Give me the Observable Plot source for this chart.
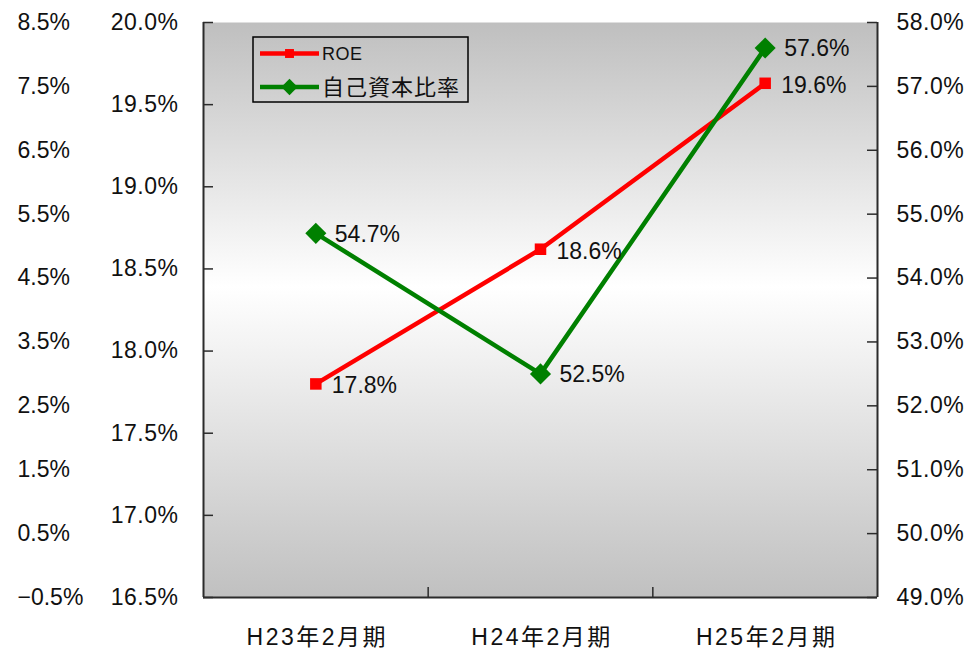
<!DOCTYPE html>
<html><head><meta charset="utf-8">
<script src="https://cdn.jsdelivr.net/npm/d3@7"></script>
<script src="https://cdn.jsdelivr.net/npm/@observablehq/plot@0.6"></script>
<style>
html,body{margin:0;padding:0;background:#fff;}
</style>
</head><body><div id="chart"></div>
<script>
const categories = ["H23年2月期", "H24年2月期", "H25年2月期"];
const seriesNames = ["ROE", "自己資本比率"];
const roe = [17.80, 18.62, 19.63];
const equityRatio = [54.7, 52.5, 57.6];
const roeTicks = [16.5, 17.0, 17.5, 18.0, 18.5, 19.0, 19.5, 20.0];
const equityTicks = [49, 50, 51, 52, 53, 54, 55, 56, 57, 58];
const outerTicks = [-0.5, 0.5, 1.5, 2.5, 3.5, 4.5, 5.5, 6.5, 7.5, 8.5];

const roeDomain = [16.5, 20];
const eqDomain = [49, 58];
const outerDomain = [-0.5, 8.5];
const toRoe = dom => v => roeDomain[0] + (v - dom[0]) * (roeDomain[1] - roeDomain[0]) / (dom[1] - dom[0]);
const eqToY = toRoe(eqDomain), outerToY = toRoe(outerDomain);
const yToEq = y => eqDomain[0] + (y - roeDomain[0]) * (eqDomain[1] - eqDomain[0]) / (roeDomain[1] - roeDomain[0]);

const rows = categories.map((c, i) => ({category: c, pos: i + 0.5, roe: roe[i], eq: equityRatio[i]}));
const boundaries = d3.range(1, categories.length);
const pct = v => (v < 0 ? "\u2212" : "") + Math.abs(v).toFixed(1) + "%";

const RED = "#ff0000", GREEN = "#008000", AX = "#2b2b2b";
const FONT = "'Liberation Sans', Arial, 'Noto Sans CJK JP', sans-serif";

const chart = Plot.plot({
  width: 969, height: 649,
  marginLeft: 203, marginRight: 92, marginTop: 22, marginBottom: 52,
  x: {domain: [0, categories.length], axis: null},
  y: {domain: roeDomain, axis: null},
  style: {fontFamily: FONT, fontSize: "23px", color: "#111", background: "#fff", overflow: "visible"},
  marks: [
    Plot.frame({fill: "url(#bgGrad)", stroke: "none"}),
    Plot.tickY(roeTicks, {y: d => d, insetRight: 664, stroke: AX, strokeWidth: 1.5}),
    Plot.tickY(equityTicks.map(eqToY), {y: d => d, insetLeft: 664, stroke: AX, strokeWidth: 1.5}),
    Plot.tickX(boundaries, {x: d => d, insetTop: 565, stroke: AX, strokeWidth: 1.5}),
    Plot.ruleX([0, categories.length], {stroke: AX, strokeWidth: 2}),
    Plot.ruleY([roeDomain[0]], {stroke: AX, strokeWidth: 2}),
    Plot.axisY(roeTicks, {anchor: "left", label: null, tickSize: 0, tickPadding: 25, tickFormat: pct, fontSize: 23}),
    Plot.axisY(equityTicks.map(eqToY), {anchor: "right", label: null, tickSize: 0, tickPadding: 19, tickFormat: d => pct(yToEq(d)), fontSize: 23}),
    Plot.text(outerTicks, {y: d => outerToY(d), text: d => pct(d), frameAnchor: "left", dx: -186, textAnchor: "start", fontSize: 23}),
    Plot.axisX(rows.map(r => r.pos), {anchor: "bottom", label: null, tickSize: 0, tickPadding: 31, tickFormat: d => categories[Math.floor(d)], fontSize: 23}),
    Plot.line(rows, {x: "pos", y: "roe", stroke: RED, strokeWidth: 4.5}),
    Plot.line(rows, {x: "pos", y: d => eqToY(d.eq), stroke: GREEN, strokeWidth: 4.5}),
    Plot.dot(rows, {x: "pos", y: "roe", symbol: "square", r: 6.5, fill: RED}),
    Plot.dot(rows, {x: "pos", y: d => eqToY(d.eq), symbol: "diamond2", r: 9.5, fill: GREEN}),
    Plot.text(rows, {x: "pos", y: "roe", text: d => pct(d.roe), dx: 16, dy: 2, textAnchor: "start", fontSize: 23}),
    Plot.text(rows, {x: "pos", y: d => eqToY(d.eq), text: d => pct(d.eq), dx: 19, dy: 1, textAnchor: "start", fontSize: 23})
  ]
});

document.getElementById("chart").appendChild(chart);
const svg = d3.select(chart);

// background gradient
const grad = svg.insert("defs", ":first-child").append("linearGradient")
  .attr("id", "bgGrad").attr("x1", 0).attr("y1", 0).attr("x2", 0).attr("y2", 1);
[[0, "#bfbfbf"], [0.46, "#ffffff"], [1, "#c0c0c0"]].forEach(([o, c]) =>
  grad.append("stop").attr("offset", o).attr("stop-color", c));

// letter spacing for category labels and tick labels
svg.selectAll('g[aria-label="x-axis tick label"] text').style("letter-spacing", "2.5px").attr("dx", 1.5);
svg.selectAll('g[aria-label="y-axis tick label"] text').style("letter-spacing", "0.5px");

// legend
const lg = svg.append("g").attr("font-family", FONT).attr("text-anchor", "start");
lg.append("rect").attr("x", 253).attr("y", 37).attr("width", 215).attr("height", 65)
  .attr("fill", "none").attr("stroke", "#000").attr("stroke-width", 1.5);
const legendItems = [
  {name: seriesNames[0], color: RED, sym: d3.symbolSquare, size: 80, fs: 18},
  {name: seriesNames[1], color: GREEN, sym: d3.symbolDiamond2, size: 170, fs: 22}
];
legendItems.forEach((it, i) => {
  const cy = 53.5 + i * 33.5;
  lg.append("line").attr("x1", 260).attr("x2", 319).attr("y1", cy).attr("y2", cy)
    .attr("stroke", it.color).attr("stroke-width", 4.5);
  lg.append("path").attr("d", d3.symbol(it.sym, it.size)()).attr("transform", `translate(289.5,${cy})`)
    .attr("fill", it.color);
  lg.append("text").attr("x", 322).attr("y", cy).attr("dy", "0.36em").attr("text-anchor", "start")
    .attr("font-size", it.fs).attr("fill", "#111").style("letter-spacing", i ? "1px" : "0.5px").text(it.name);
});
</script>
</body></html>
